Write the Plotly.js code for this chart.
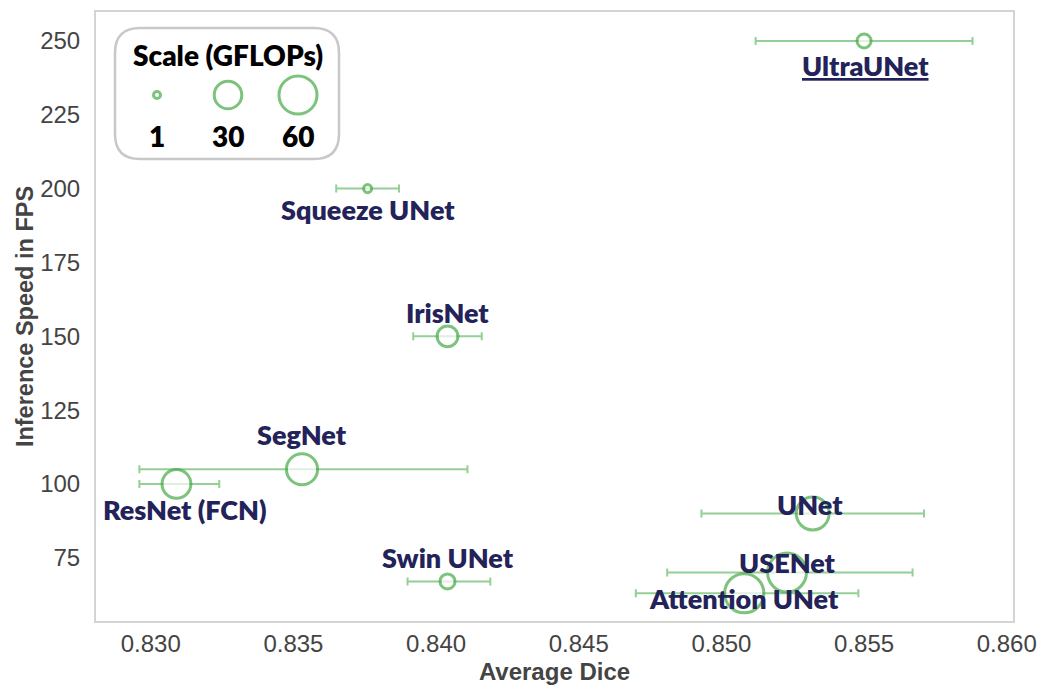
<!DOCTYPE html>
<html><head><meta charset="utf-8">
<script src="https://cdn.plot.ly/plotly-3.0.1.min.js"></script>
<style>html,body{margin:0;padding:0;background:#fff}#chart{width:1047px;height:691px}</style>
</head><body><div id="chart"></div>
<script>
// ---- data ----
const models   = ['UltraUNet','Squeeze UNet','IrisNet','SegNet','ResNet (FCN)','UNet','USENet','Attention UNet','Swin UNet'];
const dice     = [0.8550, 0.8376, 0.8404, 0.8353, 0.8309, 0.8532, 0.8523, 0.8508, 0.8404];
const diceLow  = [0.8512, 0.8365, 0.8392, 0.8296, 0.8296, 0.8493, 0.8481, 0.8470, 0.8390];
const diceHigh = [0.8588, 0.8387, 0.8416, 0.8411, 0.8324, 0.8571, 0.8567, 0.8548, 0.8419];
const fps      = [250, 200, 150, 105, 100, 90, 70, 63, 67];
const gflops   = [6.4, 1.5, 16, 39, 33, 44, 63, 64, 7.5];
const legendGflops = [1, 30, 60];
const xTicks = [0.830, 0.835, 0.840, 0.845, 0.850, 0.855, 0.860];
const yTicks = [75, 100, 125, 150, 175, 200, 225, 250];

// ---- styling (label offsets in px) ----
const labelDx = [1, 0, 0, 0, 9, -3, 0, 0, 0];
const labelDy = [-25, -21, 24, 35, -26, 9, 10, -5, 24];
const green = '#47aa47';
const navy = '#232359';
const sizeOf = g => 4.6 * Math.sqrt(g) + 2.4;
const labelFont = { family: 'Lato, "Open Sans", sans-serif', size: 27, color: navy, weight: 800 };

const traces = [{
  type: 'scatter', mode: 'markers',
  x: dice, y: fps, text: models,
  error_x: {
    type: 'data', symmetric: false,
    array: dice.map((d, i) => diceHigh[i] - d),
    arrayminus: dice.map((d, i) => d - diceLow[i]),
    color: 'rgba(76,175,80,0.6)', thickness: 2, width: 4
  },
  marker: { size: gflops.map(sizeOf), color: '#ffffff', line: { color: green, width: 3 } },
  hoverinfo: 'text+x+y', showlegend: false
}, {
  type: 'scatter', mode: 'markers', xaxis: 'x2', yaxis: 'y2',
  x: [157, 228, 298], y: [95, 95, 95],
  marker: { size: legendGflops.map(sizeOf), color: '#ffffff', line: { color: green, width: 3 } },
  hoverinfo: 'skip', showlegend: false
}];

const annotations = models.map((m, i) => ({
  x: dice[i], y: fps[i], xref: 'x', yref: 'y',
  text: i === 0 ? '<u>' + m + '</u>' : m,
  showarrow: false, xshift: labelDx[i], yshift: labelDy[i],
  font: labelFont
}));
annotations.push({
  x: 228, y: 55, xref: 'x2', yref: 'y2', text: 'Scale (GFLOPs)', showarrow: false,
  font: { family: 'Lato, sans-serif', size: 28, color: '#000', weight: 800 }
});
legendGflops.forEach((g, i) => annotations.push({
  x: [157, 228, 298][i], y: 136, xref: 'x2', yref: 'y2', text: String(g), showarrow: false,
  font: { family: 'Lato, sans-serif', size: 28, color: '#000', weight: 800 }
}));

const layout = {
  width: 1047, height: 691,
  margin: { l: 96, r: 34, t: 12, b: 70 },
  paper_bgcolor: '#fff', plot_bgcolor: '#fff',
  font: { family: '"Liberation Sans", Arial, sans-serif', color: '#444' },
  xaxis: {
    range: [0.82808, 0.86022], tickvals: xTicks, ticktext: xTicks.map(v => v.toFixed(3)),
    showgrid: false, zeroline: false, showline: true, mirror: true, linecolor: '#d4d4d4', linewidth: 2,
    ticks: '', ticklabelstandoff: 0, tickfont: { size: 24, color: '#444' },
    title: { text: 'Average Dice', font: { size: 24, color: '#444', weight: 'bold' }, standoff: 7 }
  },
  yaxis: {
    range: [53.6, 259.8], tickvals: yTicks,
    showgrid: false, zeroline: false, showline: true, mirror: true, linecolor: '#d4d4d4', linewidth: 2,
    ticks: '', ticklabelstandoff: 9, tickfont: { size: 24, color: '#444' },
    title: { text: 'Inference Speed in FPS', font: { size: 23.5, color: '#444', weight: 'bold' }, standoff: 0 }
  },
  xaxis2: { overlaying: 'x', range: [96, 1013], visible: false, fixedrange: true },
  yaxis2: { overlaying: 'y', range: [621, 12], visible: false, fixedrange: true },
  shapes: [{
    type: 'path', xref: 'x2', yref: 'y2',
    path: 'M 140,28 L 314,28 Q 339,28 339,53 L 339,134 Q 339,159 314,159 L 140,159 Q 115,159 115,134 L 115,53 Q 115,28 140,28 Z',
    line: { color: '#c8c8c8', width: 2.5 }, fillcolor: 'rgba(255,255,255,0)', layer: 'below'
  }],
  annotations: annotations
};
Plotly.newPlot('chart', traces, layout, { displayModeBar: false, staticPlot: true });
</script></body></html>
